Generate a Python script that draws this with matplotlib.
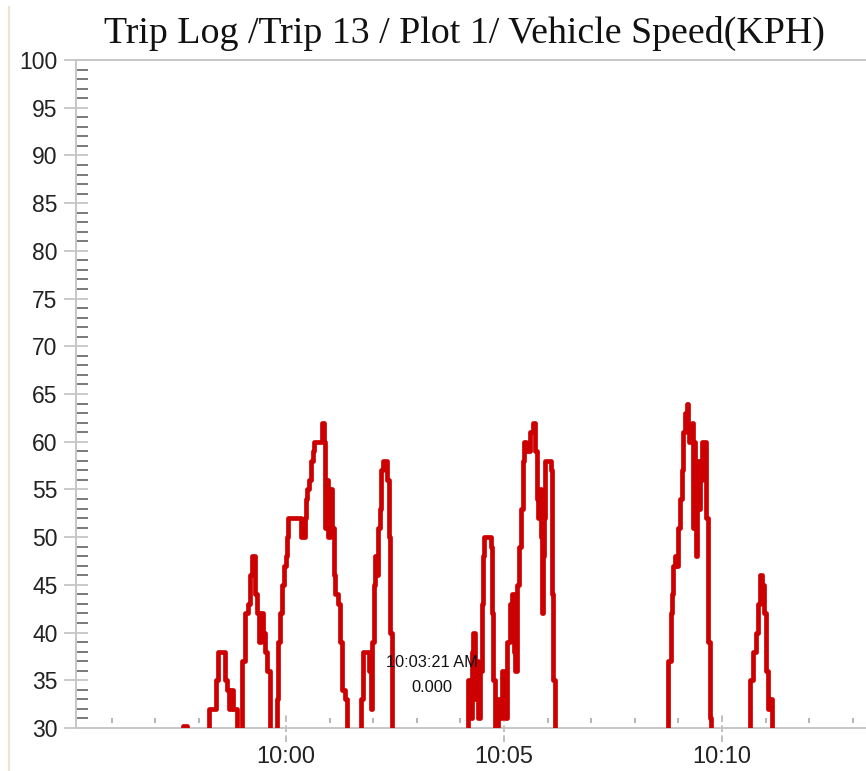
import matplotlib
matplotlib.use("Agg")
import matplotlib.pyplot as plt
import matplotlib.dates as mdates
from matplotlib.lines import Line2D
from matplotlib.ticker import MultipleLocator
import numpy as np
import pandas as pd

# ---- data -------------------------------------------------------------
title = "Trip Log /Trip 13 / Plot 1/ Vehicle Speed(KPH)"

sample_times = [
    "09:55:00", "09:57:38", "09:57:44",
    "09:58:14", "09:58:24", "09:58:26", "09:58:36", "09:58:39", "09:58:42",
    "09:58:44", "09:58:47", "09:58:53",
    "09:58:59", "09:59:04", "09:59:08", "09:59:10", "09:59:13", "09:59:17",
    "09:59:20", "09:59:23", "09:59:26", "09:59:28", "09:59:31", "09:59:34",
    "09:59:38",
    "09:59:48", "09:59:49", "09:59:52", "09:59:54", "09:59:57", "10:00:00",
    "10:00:01", "10:00:03", "10:00:21", "10:00:26", "10:00:28", "10:00:29",
    "10:00:32", "10:00:34", "10:00:37", "10:00:39", "10:00:49", "10:00:52",
    "10:00:54", "10:00:56", "10:00:58", "10:01:01", "10:01:03", "10:01:06",
    "10:01:07", "10:01:12", "10:01:14", "10:01:17", "10:01:21", "10:01:24",
    "10:01:43", "10:01:46", "10:01:54", "10:01:57", "10:01:58", "10:02:01",
    "10:02:02", "10:02:05", "10:02:07", "10:02:09", "10:02:11", "10:02:13",
    "10:02:19", "10:02:22", "10:02:23", "10:02:26",
    "10:04:10", "10:04:13", "10:04:16", "10:04:17", "10:04:20", "10:04:21",
    "10:04:24", "10:04:27", "10:04:30", "10:04:31", "10:04:32", "10:04:42",
    "10:04:43", "10:04:45", "10:04:48", "10:04:52", "10:04:54", "10:04:57",
    "10:05:01", "10:05:04", "10:05:08", "10:05:11", "10:05:14", "10:05:15",
    "10:05:18", "10:05:21", "10:05:23", "10:05:26", "10:05:27", "10:05:30",
    "10:05:36", "10:05:40", "10:05:43", "10:05:45", "10:05:47", "10:05:49",
    "10:05:51", "10:05:52", "10:05:53", "10:05:55", "10:05:57", "10:06:05",
    "10:06:06", "10:06:07", "10:06:10",
    "10:08:46", "10:08:50", "10:08:51", "10:08:52", "10:08:55", "10:08:57",
    "10:08:59", "10:09:02", "10:09:05", "10:09:06", "10:09:09", "10:09:12",
    "10:09:13", "10:09:15", "10:09:19", "10:09:20", "10:09:21", "10:09:23",
    "10:09:24", "10:09:25", "10:09:28", "10:09:29", "10:09:32", "10:09:38",
    "10:09:40", "10:09:43", "10:09:45",
    "10:10:38", "10:10:42", "10:10:46", "10:10:49", "10:10:52", "10:10:55",
    "10:10:57", "10:11:00", "10:11:03", "10:11:06", "10:11:09",
    "10:13:30",
]

speed_kph = [
    0, 30.2, 0,
    32, 35, 38, 35, 34, 32,
    34, 32, 0,
    37, 42, 43, 46, 48, 44,
    42, 39, 42, 40, 38, 36,
    0,
    33, 39, 42, 45, 47, 48,
    50, 52, 50, 52, 54, 55,
    56, 58, 59, 60, 62, 60,
    51, 56, 50, 55, 51, 46,
    44, 43, 39, 34, 33, 0,
    33, 38, 36, 32, 39, 45,
    48, 46, 51, 53, 57, 58,
    56, 50, 40, 0,
    35, 31, 38, 40, 33, 37,
    31, 36, 43, 48, 50, 49,
    42, 35, 0, 33, 31, 36,
    31, 39, 43, 44, 38, 36,
    45, 49, 53, 58, 60, 59,
    61, 62, 59, 54, 52, 55,
    50, 42, 48, 52, 58, 57,
    44, 35, 0,
    37, 42, 44, 47, 48, 47,
    51, 54, 57, 61, 63, 64,
    61, 60, 62, 51, 60, 55,
    48, 58, 53, 56, 60, 52,
    39, 31, 0,
    35, 38, 40, 43, 46, 45,
    42, 36, 32, 33, 0,
    0,
]

y_ticks = list(range(30, 101, 5))

cursor_time = "10:03:21"
cursor_label = "10:03:21 AM"
cursor_value = 0.0

x_start = "09:55:11"
x_end = "10:13:18"

# ---- helpers ----------------------------------------------------------
day = "2013-01-01 "
def to_dt(s):
    return [d.to_pydatetime() for d in pd.to_datetime([day + x for x in s])]

t = to_dt(sample_times)
v = np.array(speed_kph, dtype=float)

SANS = ["Liberation Sans", "DejaVu Sans"]
SERIF = ["Liberation Serif", "DejaVu Serif"]
LIGHT = "#c6c6c6"
MINOR = "#6e6e6e"

W, H = 866, 771
fig = plt.figure(figsize=(W / 100, H / 100), dpi=100)
fig.patch.set_facecolor("white")

ax = fig.add_axes([76 / W, 43 / H, (W - 76) / W, 668 / H])
ax.set_facecolor("white")

ax.plot(t, v, color="#cc0000", lw=3.4, drawstyle="steps-post",
        solid_joinstyle="round", zorder=3)

ax.set_ylim(30, 100)
ax.set_xlim(to_dt([x_start])[0], to_dt([x_end])[0])

# spines
for side in ("left", "top", "bottom"):
    ax.spines[side].set_color(LIGHT)
    ax.spines[side].set_linewidth(1.4)
ax.spines["right"].set_visible(False)

# y axis ticks
ax.set_yticks(y_ticks)
ax.yaxis.set_minor_locator(MultipleLocator(1))
ax.tick_params(axis="y", which="major", direction="inout", length=17.3,
               width=1.3, color=LIGHT, pad=4.5, labelsize=16.5,
               labelcolor="#222222")
ax.tick_params(axis="y", which="minor", direction="in", length=8.6,
               width=1.3, color=MINOR)
for lab in ax.get_yticklabels():
    lab.set_family(SANS)

# x axis: labels only; marks drawn below
ax.xaxis.set_major_locator(mdates.MinuteLocator(byminute=range(0, 60, 5)))
ax.xaxis.set_major_formatter(mdates.DateFormatter("%H:%M"))
ax.tick_params(axis="x", which="major", length=0, pad=13, labelsize=17,
               labelcolor="#222222")
ax.tick_params(axis="x", which="minor", length=0)
for lab in ax.get_xticklabels():
    lab.set_family(SANS)

lo, hi = ax.get_xlim()
major_x = [m for m in ax.xaxis.get_majorticklocs() if lo <= m <= hi]
minute = 1.0 / 1440.0
minor_x = [m for m in np.arange(np.ceil(lo / minute) * minute, hi, minute)
           if all(abs(m - M) > minute / 4 for M in major_x)]

ax.vlines(minor_x, 30.52, 31.05, colors="#a8a8a8", lw=1.2,
          clip_on=False, zorder=2)
ax.vlines(major_x, 28.5, 31.6, colors="#b4b4b4", lw=1.2,
          linestyles=(0, (4, 2)), clip_on=False, zorder=2)

# cursor readout
cx = to_dt([cursor_time])[0]
ax.text(cx, 36.9, cursor_label, ha="center", va="center", fontsize=11.8,
        family=SANS, color="#111111", zorder=4)
ax.text(cx, 34.2, f"{cursor_value:.3f}", ha="center", va="center",
        fontsize=11.8, family=SANS, color="#111111", zorder=4)

# title
fig.text(464 / W, 1 - 43 / H, title, ha="center", va="baseline",
         fontsize=27.3, family=SERIF, color="#111111")

# thin frame rule at the left edge
fig.add_artist(Line2D([8.5 / W, 8.5 / W], [1 - 7 / H, 1 - 770 / H],
                      color="#ebe6cf", lw=1.5))

fig.savefig("out.png", dpi=100)
